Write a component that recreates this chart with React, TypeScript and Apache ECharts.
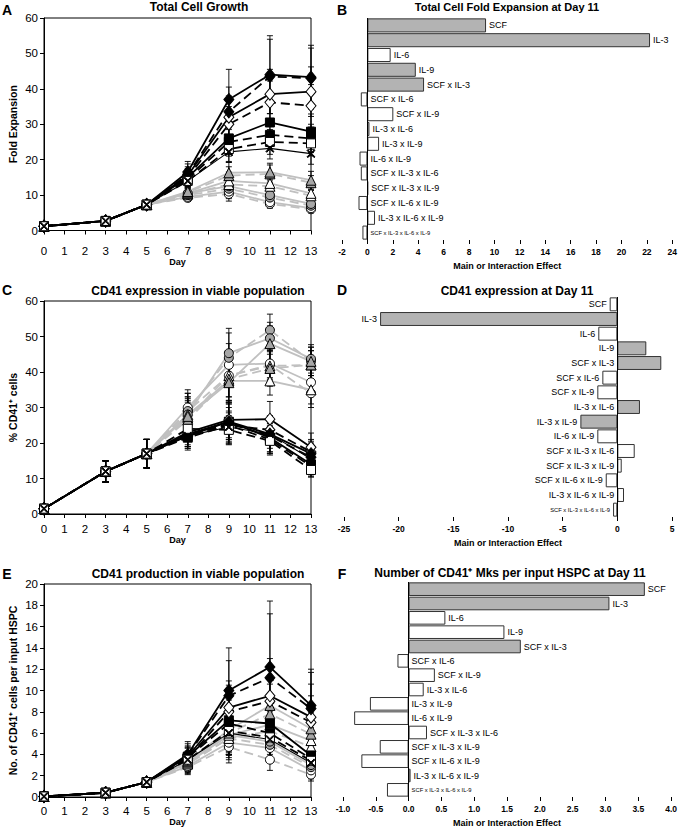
import React, { useEffect, useRef } from 'react';
import * as echarts from 'echarts';

const FONT = '"Liberation Sans", Arial, Helvetica, sans-serif';

// ---------- data ----------
const DAYS = [0, 3, 5, 7, 9, 11, 13];

const EFFECTS = [
  'SCF', 'IL-3', 'IL-6', 'IL-9', 'SCF x IL-3', 'SCF x IL-6', 'SCF x IL-9',
  'IL-3 x IL-6', 'IL-3 x IL-9', 'IL-6 x IL-9', 'SCF x IL-3 x IL-6',
  'SCF x IL-3 x IL-9', 'SCF x IL-6 x IL-9', 'IL-3 x IL-6 x IL-9', 'SCF x IL-3 x IL-6 x IL-9',
];

const FOLD_EFFECT = [9.34, 22.25, 1.83, 3.81, 4.46, -0.52, 2.04, 0.16, 0.92, -0.62, -0.52, 0.05, -0.7, 0.6, -0.39];
const FOLD_SIGNIFICANT = [1, 1, 0, 1, 1, 0, 0, 0, 0, 0, 0, 0, 0, 0, 0];
const CD41_EFFECT = [-0.7, -21.7, -1.74, 2.65, 4.02, -1.37, -1.83, 2.07, -3.38, -1.83, 1.59, 0.4, -1.06, 0.61, -0.39];
const CD41_SIGNIFICANT = [0, 1, 0, 1, 1, 0, 0, 1, 1, 0, 0, 0, 0, 0, 0];
const MK_EFFECT = [3.6, 3.06, 0.56, 1.46, 1.71, -0.17, 0.4, 0.23, -0.59, -0.83, 0.28, -0.44, -0.72, 0.03, -0.33];
const MK_SIGNIFICANT = [1, 1, 0, 0, 1, 0, 0, 0, 0, 0, 0, 0, 0, 0, 0];

// 16 culture conditions, values at DAYS
const FOLD_EXPANSION = [
  [1.2, 2.7, 7.3, 16.5, 37.0, 44.0, 43.3],
  [1.2, 2.7, 7.3, 15.8, 33.5, 43.5, 43.0],
  [1.2, 2.7, 7.3, 15.5, 32.0, 38.5, 39.2],
  [1.2, 2.7, 7.3, 15.0, 30.0, 36.2, 35.2],
  [1.2, 2.7, 7.3, 15.0, 26.0, 30.5, 27.9],
  [1.2, 2.7, 7.3, 14.5, 25.0, 27.0, 26.0],
  [1.2, 2.7, 7.3, 14.0, 23.0, 25.0, 24.6],
  [1.2, 2.7, 7.3, 14.0, 22.2, 23.2, 21.7],
  [1.2, 2.7, 7.3, 11.0, 16.3, 16.5, 14.2],
  [1.2, 2.7, 7.3, 10.8, 15.5, 16.0, 13.5],
  [1.2, 2.7, 7.3, 10.5, 14.0, 13.3, 10.5],
  [1.2, 2.7, 7.3, 10.3, 13.0, 12.5, 9.8],
  [1.2, 2.7, 7.3, 10.5, 12.5, 10.0, 7.5],
  [1.2, 2.7, 7.3, 10.0, 11.8, 9.3, 7.0],
  [1.2, 2.7, 7.3, 9.5, 11.0, 8.0, 6.3],
  [1.2, 2.7, 7.3, 9.2, 10.3, 7.5, 6.0],
];
const FOLD_EXPANSION_ERR = [
  [0.3, 0.4, 0.6, 3.0, 8.5, 11.0, 9.0],
  [0.3, 0.4, 0.6, 3.0, 7.0, 10.5, 8.5],
  [0.3, 0.4, 0.6, 2.5, 6.0, 7.0, 7.0],
  [0.3, 0.4, 0.6, 2.5, 5.0, 6.0, 6.0],
  [0.3, 0.4, 0.6, 2.0, 4.5, 5.0, 5.0],
  [0.3, 0.4, 0.6, 2.0, 4.0, 4.0, 4.0],
  [0.3, 0.4, 0.6, 2.0, 3.5, 3.5, 3.5],
  [0.3, 0.4, 0.6, 2.0, 3.0, 3.0, 3.0],
  [0.3, 0.4, 0.6, 1.5, 3.0, 2.5, 2.5],
  [0.3, 0.4, 0.6, 1.5, 2.5, 2.5, 2.0],
  [0.3, 0.4, 0.6, 1.5, 2.5, 2.0, 2.0],
  [0.3, 0.4, 0.6, 1.2, 2.0, 2.0, 1.5],
  [0.3, 0.4, 0.6, 1.5, 3.0, 2.0, 1.5],
  [0.3, 0.4, 0.6, 1.2, 2.5, 1.8, 1.5],
  [0.3, 0.4, 0.6, 1.2, 2.0, 1.5, 1.2],
  [0.3, 0.4, 0.6, 1.0, 2.0, 1.2, 1.0],
];

const CD41_PERCENT = [
  [1.5, 12, 17, 22.5, 26.0, 22.5, 17.0],
  [1.5, 12, 17, 22.0, 25.5, 22.0, 16.0],
  [1.5, 12, 17, 23.0, 26.5, 26.7, 18.8],
  [1.5, 12, 17, 22.5, 25.0, 23.7, 17.5],
  [1.5, 12, 17, 22.0, 26.0, 21.5, 14.0],
  [1.5, 12, 17, 21.5, 25.0, 21.0, 13.5],
  [1.5, 12, 17, 24.0, 23.7, 20.6, 12.4],
  [1.5, 12, 17, 22.0, 24.5, 22.5, 15.5],
  [1.5, 12, 17, 27.5, 37.0, 48.0, 43.0],
  [1.5, 12, 17, 26.5, 38.0, 41.0, 42.0],
  [1.5, 12, 17, 28.0, 37.5, 37.5, 35.0],
  [1.5, 12, 17, 27.0, 39.0, 41.7, 42.0],
  [1.5, 12, 17, 28.0, 45.3, 49.5, 43.7],
  [1.5, 12, 17, 29.0, 44.0, 51.8, 43.0],
  [1.5, 12, 17, 30.0, 42.0, 42.4, 37.1],
  [1.5, 12, 17, 29.0, 39.0, 42.0, 34.0],
];
const CD41_PERCENT_ERR = [
  [0.5, 3, 4, 4, 6, 5, 4],
  [0.5, 3, 4, 4, 6, 5, 4],
  [0.5, 3, 4, 4, 5, 5, 4],
  [0.5, 3, 4, 3, 5, 4, 3],
  [0.5, 3, 4, 3, 5, 4, 3],
  [0.5, 3, 4, 3, 4, 4, 3],
  [0.5, 3, 4, 3, 4, 4, 2],
  [0.5, 3, 4, 3, 4, 4, 3],
  [0.5, 3, 4, 5, 6, 5, 4],
  [0.5, 3, 4, 5, 6, 5, 4],
  [0.5, 3, 4, 5, 6, 4, 4],
  [0.5, 3, 4, 5, 6, 4, 4],
  [0.5, 3, 4, 5, 7, 4.5, 4],
  [0.5, 3, 4, 5, 7, 4.5, 4],
  [0.5, 3, 4, 5, 6, 4, 4],
  [0.5, 3, 4, 5, 6, 4, 4],
];

const CD41_PER_HSPC = [
  [0.05, 0.4, 1.4, 4.0, 10.0, 12.2, 8.6],
  [0.05, 0.4, 1.4, 3.9, 9.5, 11.2, 8.3],
  [0.05, 0.4, 1.4, 3.8, 8.4, 9.5, 7.5],
  [0.05, 0.4, 1.4, 3.6, 8.0, 9.0, 7.0],
  [0.05, 0.4, 1.4, 3.8, 7.2, 6.9, 3.9],
  [0.05, 0.4, 1.4, 3.7, 6.9, 6.0, 3.6],
  [0.05, 0.4, 1.4, 3.5, 6.2, 5.6, 3.4],
  [0.05, 0.4, 1.4, 3.5, 6.0, 5.4, 3.2],
  [0.05, 0.4, 1.4, 3.4, 6.3, 8.6, 6.4],
  [0.05, 0.4, 1.4, 3.3, 6.0, 7.8, 5.9],
  [0.05, 0.4, 1.4, 3.2, 5.8, 6.8, 5.3],
  [0.05, 0.4, 1.4, 3.1, 5.5, 6.2, 4.7],
  [0.05, 0.4, 1.4, 3.3, 5.8, 5.2, 3.0],
  [0.05, 0.4, 1.4, 3.2, 5.5, 4.9, 2.8],
  [0.05, 0.4, 1.4, 2.9, 5.1, 4.6, 2.5],
  [0.05, 0.4, 1.4, 2.8, 4.7, 3.5, 2.1],
];
const CD41_PER_HSPC_ERR = [
  [0.05, 0.1, 0.2, 1.2, 4.0, 6.2, 3.4],
  [0.05, 0.1, 0.2, 1.1, 3.3, 6.0, 3.4],
  [0.05, 0.1, 0.2, 1.0, 2.5, 3.5, 3.1],
  [0.05, 0.1, 0.2, 1.0, 2.5, 3.2, 2.5],
  [0.05, 0.1, 0.2, 0.9, 2.5, 2.2, 1.6],
  [0.05, 0.1, 0.2, 0.9, 2.2, 2.0, 1.4],
  [0.05, 0.1, 0.2, 0.8, 2.0, 1.8, 1.2],
  [0.05, 0.1, 0.2, 0.8, 2.0, 1.8, 1.2],
  [0.05, 0.1, 0.2, 0.8, 2.0, 2.0, 1.5],
  [0.05, 0.1, 0.2, 0.8, 2.0, 1.8, 1.4],
  [0.05, 0.1, 0.2, 0.8, 1.8, 1.6, 1.2],
  [0.05, 0.1, 0.2, 0.8, 1.8, 1.5, 1.2],
  [0.05, 0.1, 0.2, 0.8, 1.8, 1.4, 1.0],
  [0.05, 0.1, 0.2, 0.8, 1.6, 1.3, 1.0],
  [0.05, 0.1, 0.2, 0.7, 1.6, 1.0, 0.8],
  [0.05, 0.1, 0.2, 0.7, 1.5, 1.0, 0.6],
];

// ---------- styles ----------
const X_SYMBOL = 'path://M0,1L1,0L5,4L9,0L10,1L6,5L10,9L9,10L5,6L1,10L0,9L4,5Z';
const GRAY_FILL = '#a6a6a6';
const GRAY_LINE = '#c0c0c0';
const STYLES = [
  { sym: 'diamond', size: [10, 12], fill: '#000', line: '#000', dash: 'solid', w: 1.8 },
  { sym: 'diamond', size: [10, 12], fill: '#000', line: '#000', dash: [9, 5], w: 1.8 },
  { sym: 'diamond', size: [10, 12], fill: '#fff', line: '#000', dash: 'solid', w: 1.8 },
  { sym: 'diamond', size: [10, 12], fill: '#fff', line: '#000', dash: [9, 5], w: 1.8 },
  { sym: 'rect', size: 9, fill: '#000', line: '#000', dash: 'solid', w: 1.8 },
  { sym: 'rect', size: 9, fill: '#000', line: '#000', dash: [9, 5], w: 1.8 },
  { sym: 'rect', size: 9, fill: '#fff', line: '#000', dash: [9, 5], w: 1.8 },
  { sym: X_SYMBOL, size: 8, fill: '#000', line: '#000', dash: 'solid', w: 1.1 },
  { sym: 'triangle', size: 10, fill: GRAY_FILL, line: GRAY_LINE, dash: 'solid', w: 1.8 },
  { sym: 'triangle', size: 10, fill: GRAY_FILL, line: GRAY_LINE, dash: [9, 5], w: 1.8 },
  { sym: 'triangle', size: 10, fill: '#fff', line: GRAY_LINE, dash: 'solid', w: 1.8 },
  { sym: 'triangle', size: 10, fill: '#fff', line: GRAY_LINE, dash: [9, 5], w: 1.8 },
  { sym: 'circle', size: 9, fill: GRAY_FILL, line: GRAY_LINE, dash: 'solid', w: 1.8 },
  { sym: 'circle', size: 9, fill: GRAY_FILL, line: GRAY_LINE, dash: [9, 5], w: 1.8 },
  { sym: 'circle', size: 9, fill: '#fff', line: GRAY_LINE, dash: 'solid', w: 1.8 },
  { sym: 'circle', size: 9, fill: '#fff', line: GRAY_LINE, dash: [9, 5], w: 1.8 },
];
const DRAW_ORDER = [15, 14, 13, 12, 11, 10, 9, 8, 5, 4, 3, 2, 1, 0, 6, 7];

const GRIDS = [
  { left: 44, top: 18, width: 267, height: 212.5 },  // A
  { left: 342, top: 18, width: 332, height: 222 },   // B
  { left: 44, top: 301, width: 267, height: 213 },   // C
  { left: 344, top: 297, width: 328, height: 220 },  // D
  { left: 44, top: 584, width: 267, height: 213 },   // E
  { left: 343, top: 582, width: 329, height: 215 },  // F
];

const txt = (extra: any = {}) => ({ color: '#000', fontFamily: FONT, ...extra });

function lineAxes(idx: number, yMax: number, yInt: number, yName: string, labelMargin: number, nameGap: number) {
  const x = {
    gridIndex: idx, type: 'value', min: 0, max: 13, interval: 1,
    axisLine: { onZero: false, lineStyle: { color: '#000', width: 1 } },
    axisTick: { show: true, length: 4, lineStyle: { color: '#000' } },
    axisLabel: txt({ fontSize: 11.5, margin: labelMargin }),
    splitLine: { show: false },
    name: 'Day', nameLocation: 'middle', nameGap,
    nameTextStyle: txt({ fontSize: 9, fontWeight: 'bold' }),
  };
  const y = {
    gridIndex: idx, type: 'value', min: 0, max: yMax, interval: yInt,
    axisLine: { show: true, onZero: false, lineStyle: { color: '#000', width: 1 } },
    axisTick: { show: true, length: 4, lineStyle: { color: '#000' } },
    axisLabel: txt({ fontSize: 11.5, margin: 6 }),
    splitLine: { show: false },
    name: yName, nameLocation: 'middle', nameGap: 26,
    nameTextStyle: txt({ fontSize: 10.5, fontWeight: 'bold' }),
  };
  return { x, y };
}

function barAxes(idx: number, min: number, max: number, interval: number, fmt?: (v: number) => string) {
  const x = {
    gridIndex: idx, type: 'value', min, max, interval,
    axisLine: { onZero: false, lineStyle: { color: '#000', width: 1 } },
    axisTick: { show: true, length: 4, lineStyle: { color: '#000' } },
    axisLabel: txt({ fontSize: 8.5, fontWeight: 'bold', margin: 7, formatter: fmt }),
    splitLine: { show: false },
    name: 'Main or Interaction Effect', nameLocation: 'middle', nameGap: 21,
    nameTextStyle: txt({ fontSize: 9, fontWeight: 'bold' }),
  };
  const y = { gridIndex: idx, type: 'category', data: EFFECTS, inverse: true, show: false };
  return { x, y };
}

function lineSeries(idx: number, values: number[][], errs: number[][]) {
  const out: any[] = [];
  const errData: number[][] = [];
  values.forEach((row, s) => {
    row.forEach((v, i) => errData.push([DAYS[i], v - errs[s][i], v + errs[s][i]]));
  });
  out.push({
    type: 'custom', xAxisIndex: idx, yAxisIndex: idx, z: 1, silent: true,
    data: errData,
    renderItem: (params: any, api: any) => {
      const x = api.value(0);
      const lo = Math.max(0, api.value(1));
      const hi = api.value(2);
      const p1 = api.coord([x, hi]);
      const p2 = api.coord([x, lo]);
      const w = 3;
      const st = { stroke: '#000', lineWidth: 0.9 };
      return {
        type: 'group',
        children: [
          { type: 'line', shape: { x1: p1[0], y1: p1[1], x2: p2[0], y2: p2[1] }, style: st },
          { type: 'line', shape: { x1: p1[0] - w, y1: p1[1], x2: p1[0] + w, y2: p1[1] }, style: st },
          { type: 'line', shape: { x1: p2[0] - w, y1: p2[1], x2: p2[0] + w, y2: p2[1] }, style: st },
        ],
      };
    },
    encode: { x: 0, y: [1, 2] },
  });
  DRAW_ORDER.forEach((s) => {
    const st = STYLES[s];
    out.push({
      type: 'line', xAxisIndex: idx, yAxisIndex: idx, z: 3,
      data: DAYS.map((d, i) => [d, values[s][i]]),
      symbol: st.sym, symbolSize: st.size, showAllSymbol: true,
      itemStyle: { color: st.fill, borderColor: '#000', borderWidth: 1, opacity: 1 },
      lineStyle: { color: st.line, width: st.w, type: st.dash },
      emphasis: { disabled: true },
    });
  });
  return out;
}

function barSeries(idx: number, values: number[], sig: number[], pos: 'left' | 'right') {
  return {
    type: 'bar', xAxisIndex: idx, yAxisIndex: idx, barCategoryGap: '5%', z: 2,
    data: values.map((v, i) => ({
      value: v,
      itemStyle: { color: sig[i] ? '#b3b3b3' : '#ffffff', borderColor: '#333', borderWidth: 1 },
      label: i === EFFECTS.length - 1 ? { fontSize: 5.8 } : undefined,
    })),
    label: {
      show: true, position: pos, distance: 3, formatter: '{b}',
      ...txt({ fontSize: 9 }),
    },
    markLine: {
      silent: true, symbol: ['none', 'none'], label: { show: false },
      lineStyle: { color: '#000', type: 'solid', width: 1 },
      data: [{ xAxis: 0 }],
      animation: false,
    },
  };
}

function buildOption() {
  const A = lineAxes(0, 60, 10, 'Fold Expansion', 14, 25);
  const B = barAxes(1, -2, 24, 2);
  const C = lineAxes(2, 60, 10, '% CD41⁺ cells', 9, 18);
  const D = barAxes(3, -25, 5, 5);
  const E = lineAxes(4, 20, 2, 'No. of CD41⁺ cells per input HSPC', 8, 15);
  const F = barAxes(5, -1, 4, 0.5, (v: number) => v.toFixed(1));

  const titleStyle = (size: number) => ({ font: `bold ${size}px ${FONT}`, fill: '#000', textAlign: 'center', textVerticalAlign: 'middle' });
  const letter = (t: string, x: number, y: number) => ({
    type: 'text', x, y, style: { text: t, font: `bold 14px ${FONT}`, fill: '#000', textAlign: 'center', textVerticalAlign: 'middle' },
  });
  const title = (t: string, x: number, y: number, size: number) => ({ type: 'text', x, y, style: { text: t, ...titleStyle(size) } });

  return {
    animation: false,
    backgroundColor: '#fff',
    grid: GRIDS.map((g, i) => ({
      ...g, show: i % 2 === 0, borderColor: '#000', borderWidth: 1, backgroundColor: 'transparent',
    })),
    xAxis: [A.x, B.x, C.x, D.x, E.x, F.x],
    yAxis: [A.y, B.y, C.y, D.y, E.y, F.y],
    series: [
      ...lineSeries(0, FOLD_EXPANSION, FOLD_EXPANSION_ERR),
      barSeries(1, FOLD_EFFECT, FOLD_SIGNIFICANT, 'right'),
      ...lineSeries(2, CD41_PERCENT, CD41_PERCENT_ERR),
      barSeries(3, CD41_EFFECT, CD41_SIGNIFICANT, 'left'),
      ...lineSeries(4, CD41_PER_HSPC, CD41_PER_HSPC_ERR),
      barSeries(5, MK_EFFECT, MK_SIGNIFICANT, 'right'),
    ],
    graphic: [
      letter('A', 7, 10), letter('B', 342, 10),
      letter('C', 7, 290), letter('D', 342, 290),
      letter('E', 7, 574), letter('F', 342, 574),
      title('Total Cell Growth', 199, 7, 12),
      title('Total Cell Fold Expansion at Day 11', 507, 7, 11),
      title('CD41 expression in viable population', 198, 291, 12),
      title('CD41 expression at Day 11', 517, 291, 12),
      title('CD41 production in viable population', 198, 574, 12),
      title('Number of CD41⁺ Mks per input HSPC at Day 11', 510, 573, 12),
    ],
  };
}

export default function App() {
  const ref = useRef<HTMLDivElement>(null);
  useEffect(() => {
    const chart = echarts.init(ref.current as HTMLDivElement, null, { renderer: 'svg' });
    chart.setOption(buildOption() as any);
    return () => chart.dispose();
  }, []);
  return (
    <div
      ref={ref}
      style={{ position: 'absolute', left: 0, top: 0, width: 680, height: 833, background: '#fff' }}
    />
  );
}
